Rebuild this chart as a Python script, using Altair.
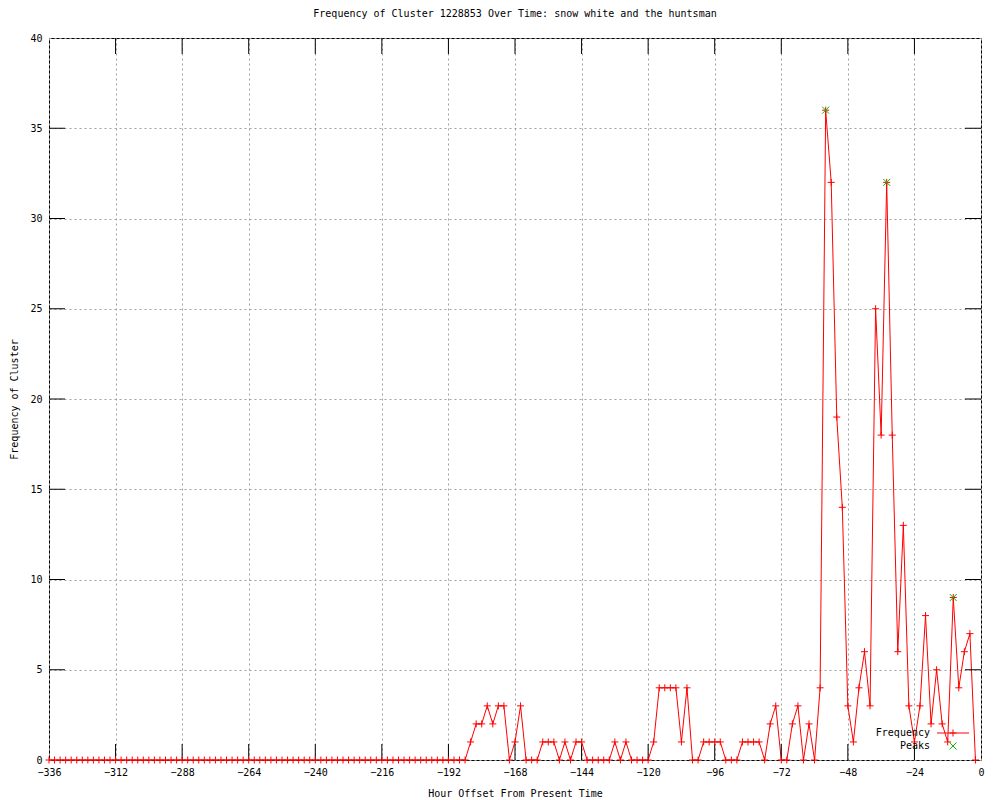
import altair as alt
import pandas as pd

# ---- data ----
hours = list(range(-336, 0, 2))
frequency = [
    0, 0, 0, 0, 0, 0, 0, 0, 0, 0, 0, 0, 0, 0, 0, 0, 0, 0, 0, 0,
    0, 0, 0, 0, 0, 0, 0, 0, 0, 0, 0, 0, 0, 0, 0, 0, 0, 0, 0, 0,
    0, 0, 0, 0, 0, 0, 0, 0, 0, 0, 0, 0, 0, 0, 0, 0, 0, 0, 0, 0,
    0, 0, 0, 0, 0, 0, 0, 0, 0, 0, 0, 0, 0, 0, 0, 0,
    1, 2, 2, 3, 2, 3, 3, 0, 1, 3,
    0, 0, 0, 1, 1, 1, 0, 1, 0, 1,
    1, 0, 0, 0, 0, 0, 1, 0, 1, 0,
    0, 0, 0, 1, 4, 4, 4, 4, 1, 4,
    0, 0, 1, 1, 1, 1, 0, 0, 0, 1,
    1, 1, 1, 0, 2, 3, 0, 0, 2, 3,
    0, 2, 0, 4, 36, 32, 19, 14, 3, 1,
    4, 6, 3, 25, 18, 32, 18, 6, 13, 3,
    1, 3, 8, 2, 5, 2, 1, 9, 4, 6,
    7, 0,
]
peak_hours = [-56, -34, -10]
peak_values = [36, 32, 9]
x_ticks = [-336, -312, -288, -264, -240, -216, -192, -168, -144, -120, -96, -72, -48, -24, 0]
y_ticks = [0, 5, 10, 15, 20, 25, 30, 35, 40]
title_text = "Frequency of Cluster 1228853 Over Time: snow white and the huntsman"
x_title = "Hour Offset From Present Time"
y_title = "Frequency of Cluster"
legend_labels = ["Frequency", "Peaks"]

# ---- styling ----
W, H = 932, 722
FONT = "DejaVu Sans Mono"
PLUS = "M-1,0L1,0M0,-1L0,1"
CROSS = "M-1,-1L1,1M-1,1L1,-1"
RED = "#ff0000"
GREEN = "#00c000"
TICK = 16

df = pd.DataFrame({"hour": hours, "freq": frequency})
peaks = pd.DataFrame({"hour": peak_hours, "freq": peak_values})
xt = pd.DataFrame({"hour": x_ticks[1:-1]})
yt = pd.DataFrame({"freq": y_ticks[1:-1]})
one = pd.DataFrame({"k": [0]})

xs = alt.Scale(domain=[x_ticks[0], x_ticks[-1]], nice=False, zero=False)
ys = alt.Scale(domain=[y_ticks[0], y_ticks[-1]], nice=False, zero=False)

x_axis = alt.Axis(values=x_ticks, title=x_title, labelPadding=7,
                  labelFlush=False, labelOverlap=False, labelBound=False,
                  titleX=W / 2, titleY=33, titleBaseline="middle", titleAlign="center")
y_axis = alt.Axis(values=y_ticks, title=y_title, labelPadding=7,
                  labelFlush=False, labelOverlap=False, labelBound=False,
                  titleX=-35, titleY=H / 2, titleAngle=270,
                  titleAlign="center", titleBaseline="middle")

X = alt.X("hour:Q", scale=xs, axis=x_axis)
Y = alt.Y("freq:Q", scale=ys, axis=y_axis)

line = alt.Chart(df).mark_line(color=RED, strokeWidth=1).encode(x=X, y=Y)
pts = alt.Chart(df).mark_point(shape=PLUS, size=49, color=RED, filled=False,
                               strokeWidth=1, opacity=1).encode(x=X, y=Y)
pk = alt.Chart(peaks).mark_point(shape=CROSS, size=49, color=GREEN, filled=False,
                                 strokeWidth=1, opacity=1).encode(x=X, y=Y)

# inward ticks on all four sides
xb = alt.Chart(xt).mark_rule(color="black", strokeWidth=1).encode(
    x=X, y=alt.value(H), y2=alt.value(H - TICK))
xtop = alt.Chart(xt).mark_rule(color="black", strokeWidth=1).encode(
    x=X, y=alt.value(0), y2=alt.value(TICK))
yl = alt.Chart(yt).mark_rule(color="black", strokeWidth=1).encode(
    y=Y, x=alt.value(0), x2=alt.value(TICK))
yr = alt.Chart(yt).mark_rule(color="black", strokeWidth=1).encode(
    y=Y, x=alt.value(W - TICK), x2=alt.value(W))

# legend (bottom right, inside plot)
LX, LY1, LY2 = 881, 695, 708
leg1 = alt.Chart(one).mark_text(align="right", baseline="middle", font=FONT,
                                fontSize=10, color="black").encode(
    x=alt.value(LX), y=alt.value(LY1), text=alt.value(legend_labels[0]))
leg2 = alt.Chart(one).mark_text(align="right", baseline="middle", font=FONT,
                                fontSize=10, color="black").encode(
    x=alt.value(LX), y=alt.value(LY2), text=alt.value(legend_labels[1]))
legline = alt.Chart(one).mark_rule(color=RED, strokeWidth=1).encode(
    x=alt.value(LX + 7), x2=alt.value(LX + 39), y=alt.value(LY1))
legplus = alt.Chart(one).mark_point(shape=PLUS, size=49, color=RED, filled=False,
                                    strokeWidth=1, opacity=1).encode(
    x=alt.value(LX + 23), y=alt.value(LY1))
legx = alt.Chart(one).mark_point(shape=CROSS, size=49, color=GREEN, filled=False,
                                 strokeWidth=1, opacity=1).encode(
    x=alt.value(LX + 23), y=alt.value(LY2))

chart = alt.layer(
    line, xb, xtop, yl, yr, pts, pk, leg1, leg2, legline, legplus, legx
).properties(
    width=W, height=H,
    title=alt.Title(title_text, font=FONT, fontSize=10, fontWeight="normal",
                    color="black", offset=14, anchor="middle"),
    padding={"left": 41, "top": 30, "right": 11, "bottom": 38},
    autosize=alt.AutoSizeParams(type="none"),
).configure_view(
    stroke="black", strokeWidth=1
).configure_axis(
    grid=True, gridColor="#a0a0a0", gridDash=[2, 3], gridWidth=1,
    domain=False, ticks=False, tickSize=0,
    labelFont=FONT, labelFontSize=10, labelColor="black",
    titleFont=FONT, titleFontSize=10, titleColor="black", titleFontWeight="normal",
)

chart.save("out.html", embed_options={"renderer": "svg", "actions": False})
